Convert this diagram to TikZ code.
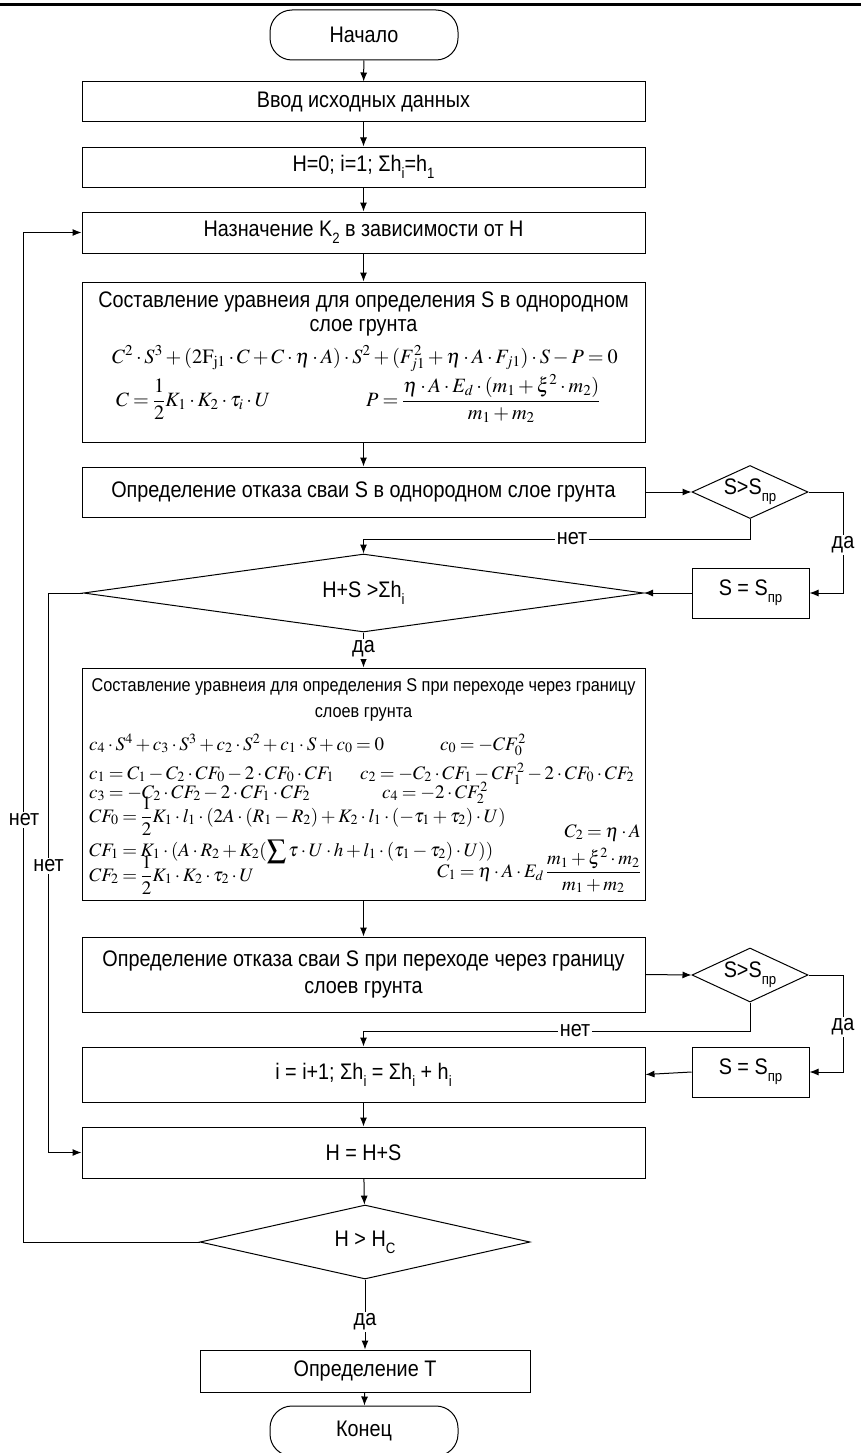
\documentclass[tikz,border=0pt]{standalone}
\usepackage{mathptmx}
\usepackage[no-math]{fontspec}
\setmainfont[FakeStretch=0.88]{Liberation Sans}
\usetikzlibrary{arrows.meta,shapes.geometric}
\medmuskip=2.5mu
\thickmuskip=3.5mu
\newcommand{\lsub}[1]{\raisebox{-0.32em}{\fontsize{15}{15}\selectfont #1}}
\tikzset{
  box/.style={draw, line width=1pt, rectangle, minimum width=563pt, inner sep=0pt},
  sbox/.style={draw, line width=1pt, rectangle, minimum width=117pt, minimum height=50pt, inner sep=0pt},
  dia/.style={draw, line width=1pt, diamond, aspect=2, inner sep=0pt},
  term/.style={draw, line width=1pt, rounded corners=22pt, minimum width=188pt, minimum height=50pt},
  arr/.style={line width=1pt, -{Latex[length=9pt,width=7pt]}},
  lbl/.style={fill=white, inner sep=2pt},
  txt/.style={inner sep=0pt},
  small/.style={font=\fontsize{18.5}{22}\selectfont},
  mA/.style={font=\fontsize{20.3}{24}\selectfont},
  mB/.style={font=\fontsize{19}{23}\selectfont},
}
\begin{document}
\begin{tikzpicture}[x=1pt, y=-1pt, font=\fontsize{22.5}{26}\selectfont]
\useasboundingbox (0,0) rectangle (861,1453);
\draw[line width=3pt] (0,5) -- (861,5);

\node[term] (start) at (364,35) {Начало};
\node[box, minimum height=40pt] (b1) at (363.5,102) {Ввод исходных данных};
\node[box, minimum height=40pt] (b2) at (363.5,167) {H=0; i=1; Σh\lsub{i}=h\lsub{1}};
\node[box, minimum height=41pt] (b3) at (363.5,232.5) {Назначение K\lsub{2} в зависимости от H};
\node[box, minimum height=160pt] (b4) at (363.5,362) {};
\node[txt, align=center, font=\fontsize{22.5}{24}\selectfont] (t11) at (363.5,314) {Составление уравнеия для определения S в однородном\\слое грунта};
\node[txt, mA, anchor=base] (f11) at (365,363) {$C^2\cdot S^3+(2\mathrm{F}_{\mathrm{j1}}\cdot C+C\cdot\eta\cdot A)\cdot S^2+(F_{j1}^2+\eta\cdot A\cdot F_{j1})\cdot S-P=0$};
\node[txt, mA, anchor=base west] (f12) at (116,406) {$\displaystyle C=\frac{1}{2}K_1\cdot K_2\cdot\tau_i\cdot U$};
\node[txt, mA, anchor=base west] (f13) at (366,406) {$\displaystyle P=\frac{\eta\cdot A\cdot E_d\cdot(m_1+\xi^2\cdot m_2)}{m_1+m_2}$};

\node[box, minimum height=50pt] (b5) at (363.5,492) {Определение отказа сваи S в однородном слое грунта};
\node[dia, minimum width=116pt, minimum height=53pt] (d1) at (750,492) {S>S\lsub{пр}};
\node[sbox] (s1) at (750.5,593) {S = S\lsub{пр}};
\node[dia, minimum width=560pt, minimum height=78pt] (d2) at (363.5,593) {H+S >Σh\lsub{i}};

\node[box, minimum height=232pt] (b6) at (363.5,784) {};
\node[txt, small, anchor=base] (t21) at (363.5,691) {Составление уравнеия для определения S при переходе через границу};
\node[txt, small, anchor=base] (t22) at (363.5,717) {слоев грунта};
\node[txt, mB, anchor=base west] (f21) at (89,750) {$c_4\cdot S^4+c_3\cdot S^3+c_2\cdot S^2+c_1\cdot S+c_0=0$};
\node[txt, mB, anchor=base west] (f22) at (440,750) {$c_0=-CF_0^2$};
\node[txt, mB, anchor=base west] (f23) at (89,779) {$c_1=C_1-C_2\cdot CF_0-2\cdot CF_0\cdot CF_1$};
\node[txt, mB, anchor=base west] (f24) at (360,779) {$c_2=-C_2\cdot CF_1-CF_1^2-2\cdot CF_0\cdot CF_2$};
\node[txt, mB, anchor=base west] (f25) at (89,798) {$c_3=-C_2\cdot CF_2-2\cdot CF_1\cdot CF_2$};
\node[txt, mB, anchor=base west] (f26) at (382,798) {$c_4=-2\cdot CF_2^2$};
\node[txt, mB, anchor=base west] (f27) at (89,822) {$\displaystyle CF_0=\frac{1}{2}K_1\cdot l_1\cdot(2A\cdot(R_1-R_2)+K_2\cdot l_1\cdot(-\tau_1+\tau_2)\cdot U)$};
\node[txt, mB, anchor=base east] (f28) at (641,837) {$C_2=\eta\cdot A$};
\node[txt, mB, anchor=base west] (f29) at (89,856) {$\displaystyle CF_1=K_1\cdot(A\cdot R_2+K_2(\sum\tau\cdot U\cdot h+l_1\cdot(\tau_1-\tau_2)\cdot U))$};
\node[txt, mB, anchor=base west] (f30) at (89,881) {$\displaystyle CF_2=\frac{1}{2}K_1\cdot K_2\cdot\tau_2\cdot U$};
\node[txt, mB, anchor=base east] (f31) at (641,877) {$\displaystyle C_1=\eta\cdot A\cdot E_d\,\frac{m_1+\xi^2\cdot m_2}{m_1+m_2}$};

\node[box, minimum height=75pt, align=center, font=\fontsize{22.5}{27}\selectfont] (b7) at (363.5,974.5) {Определение отказа сваи S при переходе через границу\\слоев грунта};
\node[dia, minimum width=116pt, minimum height=54pt] (d3) at (750,975) {S>S\lsub{пр}};
\node[sbox] (s2) at (750.5,1072) {S = S\lsub{пр}};
\node[box, minimum height=55pt] (b8) at (363.5,1074.5) {i = i+1; Σh\lsub{i} = Σh\lsub{i} + h\lsub{i}};
\node[box, minimum height=51pt] (b9) at (363.5,1152.5) {H = H+S};
\node[dia, minimum width=330pt, minimum height=74pt] (d4) at (365,1242) {H > H\lsub{C}};
\node[box, minimum width=330pt, minimum height=42pt] (b10) at (365,1371) {Определение T};
\node[term] (end) at (364,1431) {Конец};

% connectors
\draw[arr] (start) -- (b1);
\draw[arr] (b1) -- (b2);
\draw[arr] (b2) -- (b3);
\draw[arr] (b3) -- (b4);
\draw[arr] (b4) -- (b5);
\draw[arr] (b5.east) -- (d1.west);
\draw[arr] (d1.east) -- ++(35,0) |- (s1.east);
\node[lbl] (da1) at (843,545) {да};
\draw[arr] (d1.south) -- ++(0,20) -| (d2.north);
\node[lbl] (net1) at (572,538.5) {нет};
\draw[arr] (s1.west) -- (d2.east);
\draw[arr] (d2.west) -- ++(-35,0) |- (b9.west);
\node[lbl] (net2) at (48.5,866) {нет};
\draw[arr] (d2.south) -- (b6.north);
\node[lbl] (da2) at (363.5,649) {да};
\draw[arr] (b6) -- (b7);
\draw[arr] (b7.east) -- (d3.west);
\draw[arr] (d3.east) -- ++(35,0) |- (s2.east);
\node[lbl] (da3) at (843,1027) {да};
\draw[arr] (d3.south) -- ++(0,29) -| (b8.north);
\node[lbl] (net3) at (575,1031) {нет};
\draw[arr] (s2.west) -- (b8.east);
\draw[arr] (b8) -- (b9);
\draw[arr] (b9) -- (d4);
\draw[arr] (d4.west) -- ++(-176,0) |- (b3.west);
\node[lbl] (net4) at (24,820) {нет};
\draw[arr] (d4.south) -- (b10.north);
\node[lbl] (da4) at (365,1322) {да};
\draw[arr] (b10) -- (end);
\end{tikzpicture}
\end{document}
